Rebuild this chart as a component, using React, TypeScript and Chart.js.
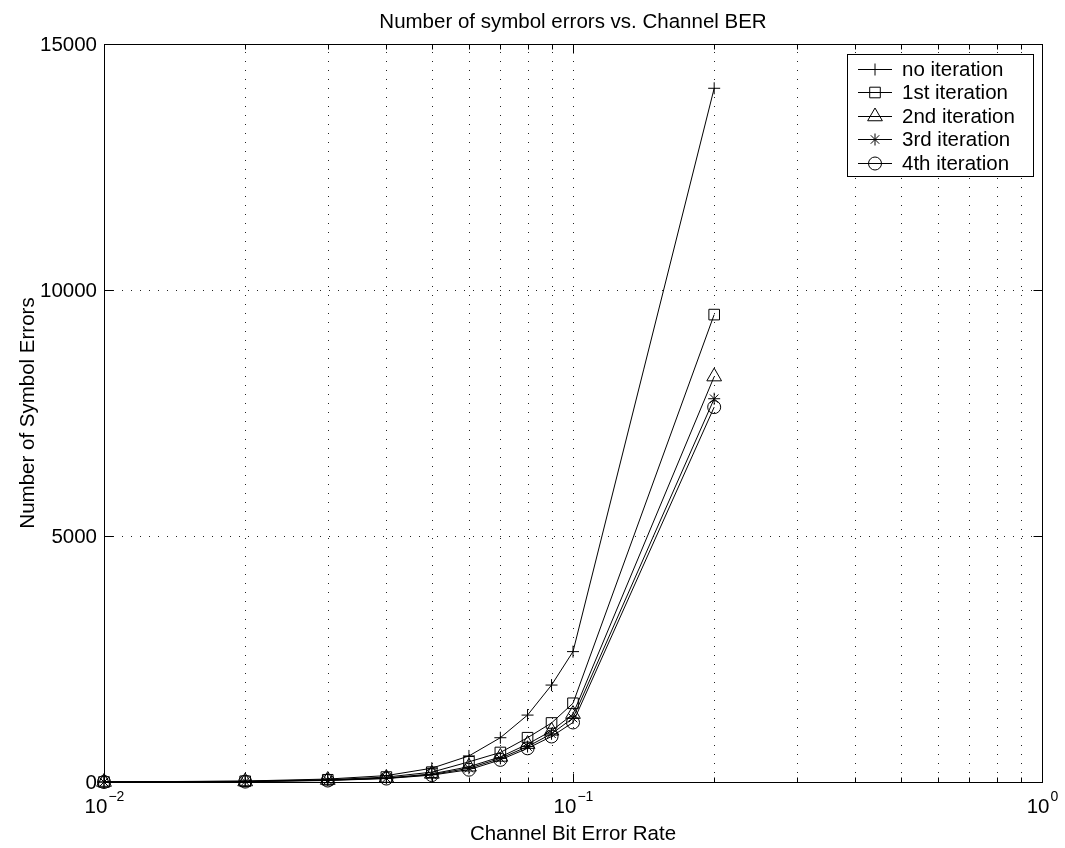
import React, { useEffect, useRef } from 'react';
import { Chart, registerables } from 'chart.js';
import { drawPoint } from 'chart.js/helpers';

Chart.register(...registerables);

// ---- data ----
const channelBER = [0.01, 0.02, 0.03, 0.04, 0.05, 0.06, 0.07, 0.08, 0.09, 0.1, 0.2];
const noIteration = [0, 20, 60, 130, 280, 530, 900, 1360, 1970, 2650, 14100];
const iteration1 = [0, 15, 45, 100, 200, 410, 600, 900, 1200, 1600, 9500];
const iteration2 = [0, 10, 40, 80, 165, 310, 510, 770, 1040, 1380, 8240];
const iteration3 = [0, 10, 35, 75, 150, 280, 480, 720, 980, 1300, 7790];
const iteration4 = [0, 8, 30, 70, 140, 250, 450, 685, 925, 1210, 7620];

const seriesNames = ['no iteration', '1st iteration', '2nd iteration', '3rd iteration', '4th iteration'];
const seriesValues = [noIteration, iteration1, iteration2, iteration3, iteration4];
const seriesMarkers = ['cross', 'rect', 'triangle', 'star', 'circle'];
const markerRadius = [6, 7.5, 8.5, 6, 6.5];

const xMajorTicks = [0.01, 0.1, 1];
const xMajorExponents = ['\u22122', '\u22121', '0'];
const xMinorTicks = [0.02, 0.03, 0.04, 0.05, 0.06, 0.07, 0.08, 0.09, 0.2, 0.3, 0.4, 0.5, 0.6, 0.7, 0.8, 0.9];
const yTicks = [0, 5000, 10000, 15000];
const yTickLabels = ['0', '5000', '10000', '15000'];

const titleText = 'Number of symbol errors vs. Channel BER';
const xTitle = 'Channel Bit Error Rate';
const yTitle = 'Number of Symbol Errors';

const FAMILY = '"Liberation Sans", Arial, Helvetica, sans-serif';
const FS = 20.5;

const matlabPlugin = {
  id: 'matlabStyle',
  beforeDatasetsDraw(chart: any) {
    const { ctx, chartArea: a, scales } = chart;
    const xs = scales.x;
    const ys = scales.y;
    ctx.save();
    ctx.strokeStyle = '#222';
    ctx.lineWidth = 1;
    ctx.setLineDash([1, 8]);
    [...xMinorTicks, ...xMajorTicks].forEach((v) => {
      const px = Math.round(xs.getPixelForValue(v)) + 0.5;
      if (px <= a.left + 1 || px >= a.right - 1) return;
      ctx.beginPath();
      ctx.moveTo(px, a.bottom);
      ctx.lineTo(px, a.top);
      ctx.stroke();
    });
    yTicks.forEach((v) => {
      const py = Math.round(ys.getPixelForValue(v)) + 0.5;
      if (py <= a.top + 1 || py >= a.bottom - 1) return;
      ctx.beginPath();
      ctx.moveTo(a.left, py);
      ctx.lineTo(a.right, py);
      ctx.stroke();
    });
    ctx.restore();
  },
  afterDraw(chart: any) {
    const { ctx, chartArea: a, scales } = chart;
    const xs = scales.x;
    const ys = scales.y;
    ctx.save();
    ctx.setLineDash([]);
    ctx.strokeStyle = '#000';
    ctx.fillStyle = '#000';
    ctx.lineWidth = 1;
    const L = Math.round(a.left) + 0.5;
    const R = Math.round(a.right) + 0.5;
    const T = Math.round(a.top) + 0.5;
    const B = Math.round(a.bottom) + 0.5;
    ctx.strokeRect(L, T, R - L, B - T);

    // ticks
    const major = 9;
    const minor = 5;
    ctx.beginPath();
    xMajorTicks.forEach((v) => {
      const px = Math.round(xs.getPixelForValue(v)) + 0.5;
      ctx.moveTo(px, B); ctx.lineTo(px, B - major);
      ctx.moveTo(px, T); ctx.lineTo(px, T + major);
    });
    xMinorTicks.forEach((v) => {
      const px = Math.round(xs.getPixelForValue(v)) + 0.5;
      ctx.moveTo(px, B); ctx.lineTo(px, B - minor);
      ctx.moveTo(px, T); ctx.lineTo(px, T + minor);
    });
    yTicks.forEach((v) => {
      const py = Math.round(ys.getPixelForValue(v)) + 0.5;
      ctx.moveTo(L, py); ctx.lineTo(L + major, py);
      ctx.moveTo(R, py); ctx.lineTo(R - major, py);
    });
    ctx.stroke();

    // y tick labels
    ctx.font = `${FS}px ${FAMILY}`;
    ctx.textAlign = 'right';
    ctx.textBaseline = 'middle';
    yTicks.forEach((v, i) => {
      ctx.fillText(yTickLabels[i], a.left - 7, ys.getPixelForValue(v) + 1);
    });

    // x tick labels 10^n
    ctx.textBaseline = 'alphabetic';
    ctx.textAlign = 'left';
    xMajorTicks.forEach((v, i) => {
      const px = xs.getPixelForValue(v);
      ctx.font = `${FS}px ${FAMILY}`;
      const wb = ctx.measureText('10').width;
      ctx.font = `14px ${FAMILY}`;
      const we = ctx.measureText(xMajorExponents[i]).width;
      const start = px - (wb + we) / 2;
      ctx.font = `${FS}px ${FAMILY}`;
      ctx.fillText('10', start, a.bottom + 31);
      ctx.font = `14px ${FAMILY}`;
      ctx.fillText(xMajorExponents[i], start + wb + 1, a.bottom + 19);
    });

    // titles
    ctx.font = `${FS}px ${FAMILY}`;
    ctx.textAlign = 'center';
    ctx.textBaseline = 'alphabetic';
    const cx = (a.left + a.right) / 2;
    ctx.fillText(titleText, cx, a.top - 16);
    ctx.fillText(xTitle, cx, a.bottom + 58);
    ctx.save();
    ctx.translate(34, (a.top + a.bottom) / 2);
    ctx.rotate(-Math.PI / 2);
    ctx.fillText(yTitle, 0, 0);
    ctx.restore();

    // legend
    const lx = 847.5, ly = 54.5, lw = 186, lh = 122;
    ctx.fillStyle = '#fff';
    ctx.fillRect(lx, ly, lw, lh);
    ctx.strokeStyle = '#000';
    ctx.strokeRect(lx, ly, lw, lh);
    ctx.font = `${FS}px ${FAMILY}`;
    ctx.textAlign = 'left';
    ctx.textBaseline = 'middle';
    seriesNames.forEach((name, i) => {
      const ry = Math.round(ly + 14 + i * 23.5) + 0.5;
      ctx.strokeStyle = '#000';
      ctx.lineWidth = 1;
      ctx.beginPath();
      ctx.moveTo(858, ry);
      ctx.lineTo(892, ry);
      ctx.stroke();
      ctx.fillStyle = 'rgba(0,0,0,0)';
      drawPoint(ctx, { pointStyle: seriesMarkers[i] as any, radius: markerRadius[i], rotation: 0, borderWidth: 1 }, 875, ry);
      ctx.fillStyle = '#000';
      ctx.fillText(name, 902, ry + 1);
    });
    ctx.restore();
  },
};

export default function App() {
  const canvasRef = useRef<HTMLCanvasElement | null>(null);

  useEffect(() => {
    if (!canvasRef.current) return;
    const datasets = seriesValues.map((vals, i) => ({
      label: seriesNames[i],
      data: channelBER.map((x, j) => ({ x, y: vals[j] })),
      borderColor: '#000',
      backgroundColor: 'rgba(0,0,0,0)',
      borderWidth: 1,
      pointStyle: seriesMarkers[i] as any,
      pointRadius: markerRadius[i],
      pointBorderWidth: 1,
      pointBorderColor: '#000',
      pointBackgroundColor: 'rgba(0,0,0,0)',
      tension: 0,
      fill: false,
      clip: false as any,
    }));
    const chart = new Chart(canvasRef.current, {
      type: 'line',
      data: { datasets },
      plugins: [matlabPlugin],
      options: {
        animation: false,
        responsive: true,
        maintainAspectRatio: false,
        events: [],
        layout: { padding: { left: 104, right: 23, top: 44, bottom: 66 } },
        plugins: { legend: { display: false }, title: { display: false }, tooltip: { enabled: false } },
        scales: {
          x: {
            type: 'logarithmic',
            min: 0.01,
            max: 1,
            grid: { display: false, drawTicks: false },
            border: { display: false },
            ticks: { display: false },
            afterFit: (s: any) => { s.height = 0; },
          },
          y: {
            type: 'linear',
            min: 0,
            max: 15000,
            grid: { display: false, drawTicks: false },
            border: { display: false },
            ticks: { display: false },
            afterFit: (s: any) => { s.width = 0; },
          },
        },
      },
    });
    return () => chart.destroy();
  }, []);

  return (
    <div style={{ position: 'fixed', left: 0, top: 0, width: 1065, height: 848, background: '#fff' }}>
      <canvas ref={canvasRef} />
    </div>
  );
}
